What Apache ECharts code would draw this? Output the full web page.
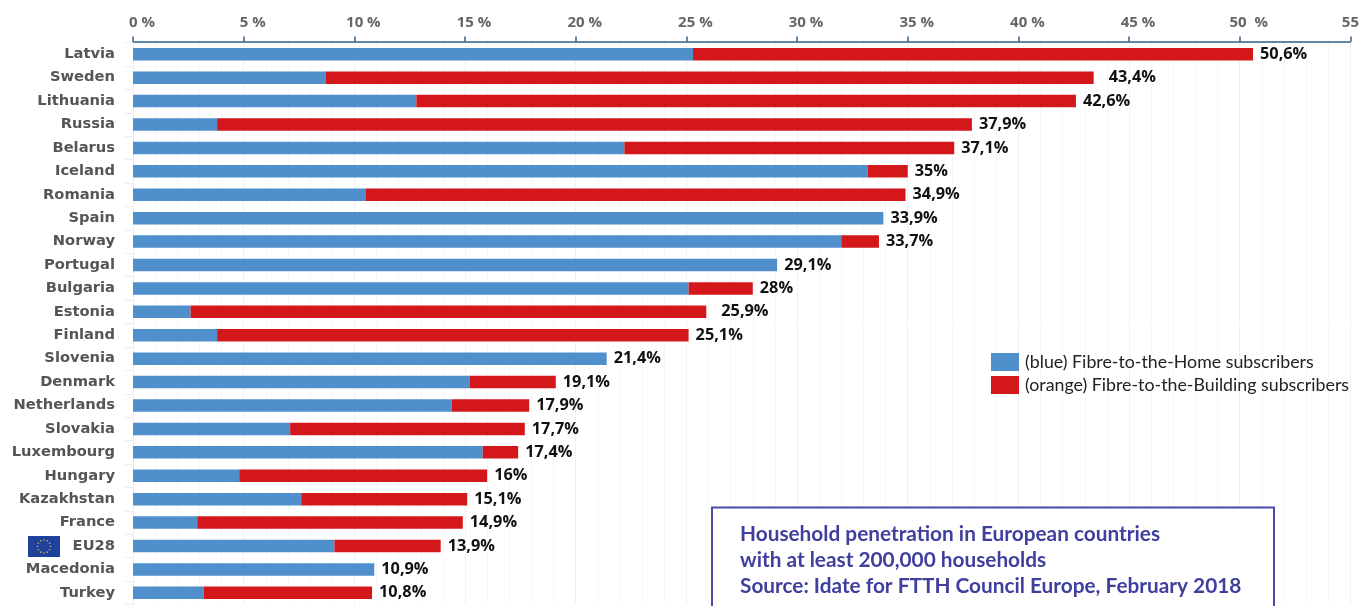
<!DOCTYPE html>
<html><head><meta charset="utf-8">
<style>html,body{margin:0;padding:0;background:#fff}#c{width:1362px;height:606px}</style>
<script src="https://cdn.jsdelivr.net/npm/echarts@6/dist/echarts.min.js"></script></head>
<body><div id="c"></div>
<script>
const countries = ['Latvia','Sweden','Lithuania','Russia','Belarus','Iceland','Romania','Spain','Norway','Portugal','Bulgaria','Estonia','Finland','Slovenia','Denmark','Netherlands','Slovakia','Luxembourg','Hungary','Kazakhstan','France','EU28','Macedonia','Turkey'];
const ftthValues = [25.3,8.7,12.8,3.8,22.2,33.2,10.5,33.9,32.0,29.1,25.1,2.6,3.8,21.4,15.2,14.4,7.1,15.8,4.8,7.6,2.9,9.1,10.9,3.2];
const fttbValues = [25.3,34.7,29.8,34.1,14.9,1.8,24.4,0,1.7,0,2.9,23.3,21.3,0,3.9,3.5,10.6,1.6,11.2,7.5,12.0,4.8,0,7.6];
const totalLabels = ['50,6%','43,4%','42,6%','37,9%','37,1%','35%','34,9%','33,9%','33,7%','29,1%','28%','25,9%','25,1%','21,4%','19,1%','17,9%','17,7%','17,4%','16%','15,1%','14,9%','13,9%','10,9%','10,8%'];
const wideGapLabels = ['Sweden','Estonia'];
const tickLabels = ['0 %','5 %','10 %','15 %','20 %','25 %','30 %','35 %','40 %','45 %','50  %','55'];
const legendNames = ['(blue) Fibre-to-the-Home subscribers','(orange) Fibre-to-the-Building subscribers'];
const noteLines = ['Household penetration in European countries','with at least 200,000 households','Source: Idate for FTTH Council Europe, February 2018'];

const BLUE='#4f8fcb', RED='#d3171b', NOTE='#3f3f9e', FONT='"Open Sans"';
const chart = echarts.init(document.getElementById('c'));
const flagStars = [];
for (let i=0;i<12;i++){
  const a=i*Math.PI/6;
  flagStars.push({type:'circle',shape:{cx:44+6.5*Math.cos(a),cy:546.5+6.5*Math.sin(a),r:0.8},style:{fill:'#c9b949'},z:20});
}
chart.setOption({
  animation:false,
  backgroundColor:'#fff',
  grid:{left:133,right:10,top:42.5,bottom:1.5,containLabel:false},
  legend:{
    left:991,top:353,padding:0,orient:'vertical',itemWidth:28,itemHeight:18,itemGap:5,
    data:legendNames.map(n=>({name:n,icon:'rect'})),
    textStyle:{fontFamily:'Lato',fontSize:17.8,color:'#222',padding:[0,0,0,1]}
  },
  xAxis:{
    type:'value',position:'top',offset:1,min:0,max:55,interval:5,
    axisLine:{show:true,lineStyle:{color:'#2f5f8a',width:1.5}},
    axisTick:{show:true,length:5,inside:false,lineStyle:{color:'#2f5f8a',width:1.5}},
    axisLabel:{
      margin:11,color:'#666',hideOverlap:false,
      formatter:(v,i)=>{const t=tickLabels[i];return t.indexOf('%')>=0?'{p|'+t+'}':'{n|'+t+'}';},
      rich:{
        p:{fontFamily:FONT,fontWeight:'bold',fontSize:15,color:'#666',padding:[0,0,0,18]},
        n:{fontFamily:FONT,fontWeight:'bold',fontSize:15,color:'#666'}
      }
    },
    splitLine:{show:true,lineStyle:{color:'#f1f1f1'}},
    minorTick:{show:false},
    minorSplitLine:{show:true,lineStyle:{color:'#f7f7f7'}}
  },
  yAxis:{
    type:'category',inverse:true,data:countries,
    axisLine:{show:true,lineStyle:{color:'#eeeeee'}},
    axisTick:{show:true,length:8,lineStyle:{color:'#eeeeee'}},
    axisLabel:{margin:18,interval:0,fontFamily:'"DejaVu Sans"',fontWeight:'bold',fontSize:14.7,color:'#555'},
    splitLine:{show:false}
  },
  series:[
    {name:legendNames[0],type:'bar',stack:'t',barWidth:12.5,data:ftthValues,itemStyle:{color:BLUE},z:3},
    {name:legendNames[1],type:'bar',stack:'t',barWidth:12.5,data:fttbValues,itemStyle:{color:RED},z:3},
    {name:'total',type:'bar',stack:'t',barWidth:12.5,z:4,itemStyle:{color:'transparent'},
     data:countries.map((c,i)=>({value:0,label:{distance:wideGapLabels.includes(c)?15:7}})),
     label:{show:true,position:'right',distance:7,fontFamily:FONT,fontWeight:'bold',fontSize:16.3,color:'#111',
       formatter:p=>totalLabels[p.dataIndex]}}
  ],
  graphic:[
    {type:'rect',shape:{x:28,y:536,width:32,height:21},style:{fill:'#1f419b'},z:19},
    ...flagStars,
    {type:'rect',shape:{x:712,y:507.5,width:562,height:110},style:{fill:'#fff',stroke:'#4a4aa8',lineWidth:2},z:10},
    ...noteLines.map((t,i)=>({type:'text',x:740,y:534+i*26,z:11,
      style:{text:t,fill:NOTE,fontFamily:'Lato',fontWeight:'bold',fontSize:20.8,textVerticalAlign:'middle'}}))
  ]
});
</script></body></html>
